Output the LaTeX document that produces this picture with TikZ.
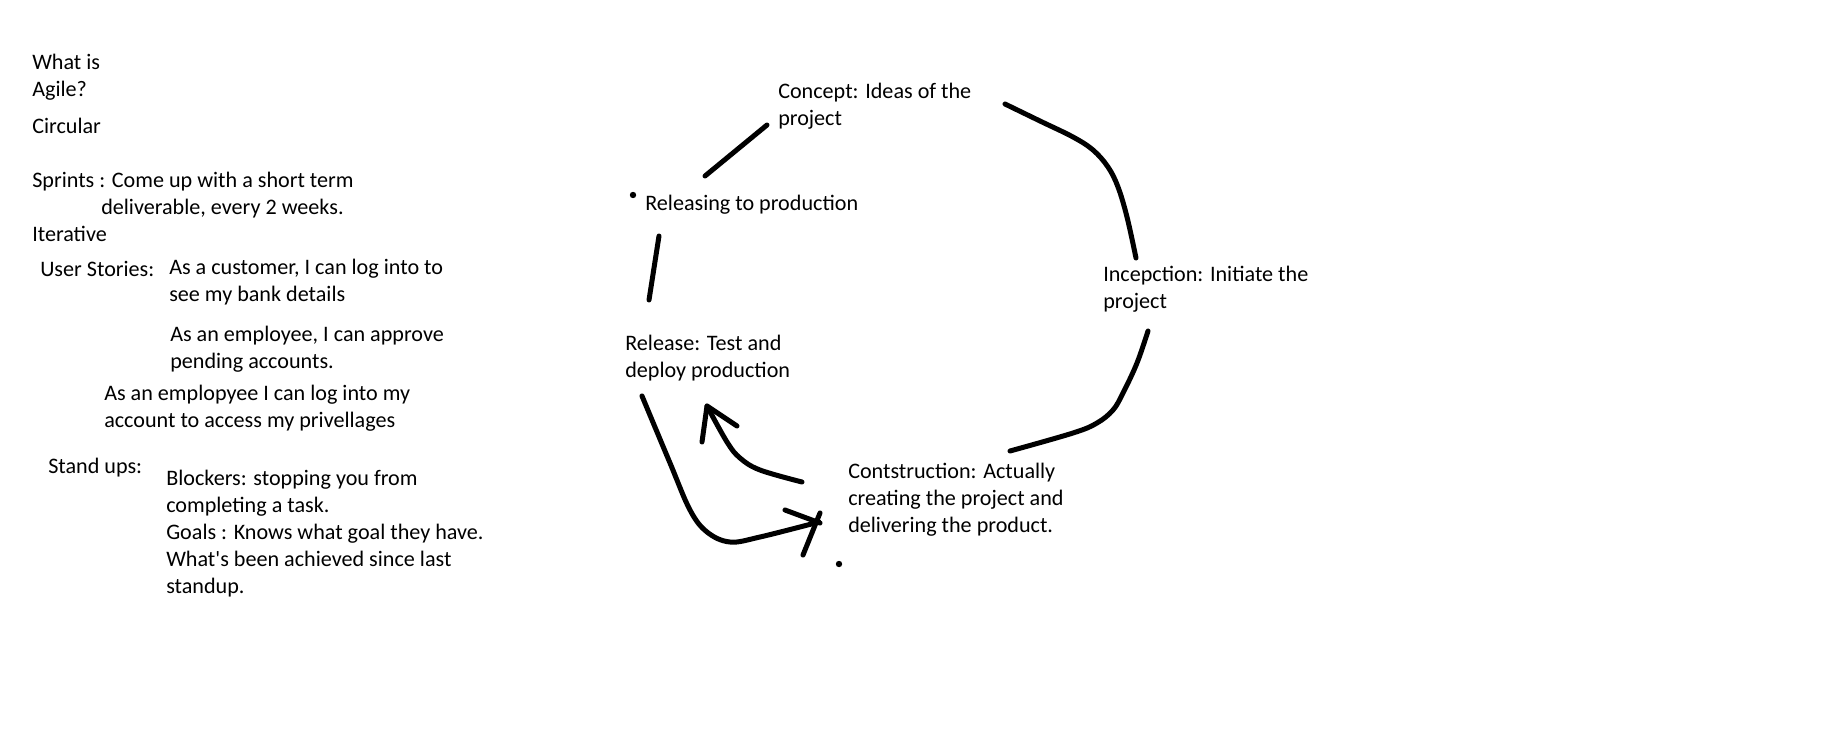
\documentclass[tikz,border=0pt]{standalone}
\usepackage{fontspec}
\setmainfont{Carlito}
\usetikzlibrary{positioning,calc}

% multi-line notes sit on the baseline of their last line
\tikzset{
  note/.style={anchor=base west, inner sep=0pt, align=left,
    font=\fontsize{16.6pt}{20.25pt}\selectfont},
  pen/.style={line width=3.75pt, line cap=round, line join=round},
}

\begin{document}
\begin{tikzpicture}[x=0.75pt,y=-0.75pt]
    \useasboundingbox (0,0) rectangle (1825,746);

    % Notes: what is agile
    \node[note] (whatis) at (32,96) {What is\\Agile?};
    \node[note] (circular) at (32,133) {Circular};
    \node[note] (sprints) at (32,187) {Sprints : Come up with a short term};
    \node[note] (sprintsb) at (101,214) {deliverable, every 2 weeks.};
    \node[note] (iterative) at (32,241) {Iterative};

    % User stories
    \node[note] (stories) at (40,276) {User Stories:};
    \node[note] (storya) at (169,301) {As a customer, I can log into to\\see my bank details};
    \node[note] (storyb) at (170,368) {As an employee, I can approve\\pending accounts.};
    \node[note] (storyc) at (104,427) {As an emplopyee I can log into my\\account to access my privellages};

    % Stand ups
    \node[note] (standups) at (48,473) {Stand ups:};
    \node[note] (blockers) at (166,593) {Blockers: stopping you from\\completing a task.\\Goals : Knows what goal they have.\\What\textquotesingle s been achieved since last\\standup.};

    % Cycle
    \node[note] (concept) at (778,125) {Concept: Ideas of the\\project};
    \node[note] (releasing) at (645,210) {Releasing to production};
    \node[note] (inception) at (1103,308) {Incepction: Initiate the\\project};
    \node[note] (release) at (625,377) {Release: Test and\\deploy production};
    \node[note] (construction) at (848,532) {Contstruction: Actually\\creating the project and\\delivering the product.};

    \coordinate (dotrel) at (633,195);
    \coordinate (dotcon) at (839,564);
    \fill (dotrel) circle (2.4pt);
    \fill (dotcon) circle (2.4pt);

    % strokes between the stages
    \coordinate (relup) at (705,176);
    \coordinate (condown) at (767,125);
    \coordinate (conright) at (1005,104);
    \coordinate (incup) at (1136,258);
    \coordinate (incdown) at (1148,331);
    \coordinate (consup) at (1010,451);
    \coordinate (relbelow) at (659,236);
    \coordinate (relabove) at (649,300);

    \draw[pen] (relup) -- (condown);
    \draw[pen] plot[smooth, tension=0.6] coordinates {(conright) (1040,121) (1073,137) (1093,150) (1108,167) (1118,187) (1127,217) (incup)};
    \draw[pen] plot[smooth, tension=0.6] coordinates {(incdown) (1137,363) (1123,393) (1113,410) (1097,423) (1073,433) (consup)};
    \draw[pen] (relbelow) -- (relabove);

    % arrows between release and construction
    \coordinate (relout) at (642,396);
    \coordinate (tipcons) at (819,522);
    \coordinate (consout) at (802,482);
    \coordinate (tiprel) at (707,406);

    \draw[pen] plot[smooth, tension=0.6] coordinates {(relout) (670,463) (690,510) (707,532) (730,542) (760,537) (tipcons)};
    \draw[pen] (785,510) -- (820,523);
    \draw[pen] (803,555) -- (820,513);

    \draw[pen] plot[smooth, tension=0.6] coordinates {(consout) (760,470) (740,458) (727,442) (tiprel)};
    \draw[pen] (702,442) -- (tiprel) -- (737,426);

\end{tikzpicture}
\end{document}
